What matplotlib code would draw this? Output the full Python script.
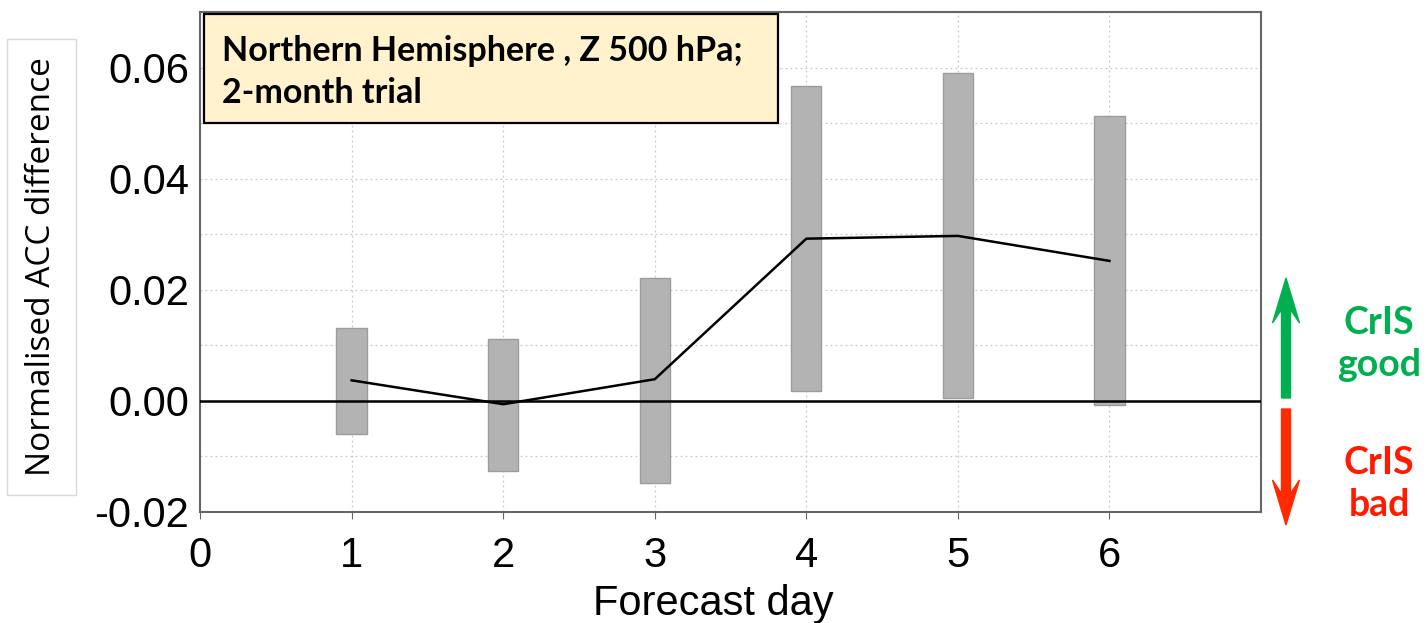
import matplotlib
matplotlib.use("Agg")
import matplotlib.pyplot as plt
from matplotlib.patches import Rectangle, FancyArrow
from matplotlib.ticker import MultipleLocator

# forecast days and normalised ACC difference (mean and range)
days = [1, 2, 3, 4, 5, 6]
acc_mean = [0.0037, -0.0006, 0.0039, 0.0292, 0.0297, 0.0252]
acc_upper = [0.0131, 0.0112, 0.0222, 0.0567, 0.0590, 0.0513]
acc_lower = [-0.0059, -0.0126, -0.0147, 0.0017, 0.0005, -0.0008]
y_ticks = [-0.02, 0.00, 0.02, 0.04, 0.06]
x_ticks = [0, 1, 2, 3, 4, 5, 6]

plt.rcParams['font.family'] = ['Liberation Sans', 'DejaVu Sans']

fig = plt.figure(figsize=(14.27, 6.23), dpi=100)
ax = fig.add_axes([0.1402, 0.1782, 0.7435, 0.8025])

# grid
ax.set_xlim(0, 7)
ax.set_ylim(-0.02, 0.07)
ax.set_xticks(x_ticks)
ax.set_yticks(y_ticks)
ax.yaxis.set_minor_locator(MultipleLocator(0.01))
ax.grid(which='both', axis='y', color='#c8c8c8', linestyle=(0, (1.5, 2.5)), linewidth=0.9)
ax.grid(which='major', axis='x', color='#c8c8c8', linestyle=(0, (1.5, 2.5)), linewidth=0.9)
ax.set_axisbelow(True)

# range bars
heights = [u - l for u, l in zip(acc_upper, acc_lower)]
ax.bar(days, heights, bottom=acc_lower, width=0.2, color='#b3b3b3',
       edgecolor='#9c9c9c', linewidth=1.0, zorder=2)

ax.axhline(0, color='black', linewidth=1.8, zorder=3)
ax.plot(days, acc_mean, color='black', linewidth=1.8, zorder=4)

for s in ax.spines.values():
    s.set_color('#666666')
    s.set_linewidth(1.5)

ax.set_yticklabels(['-0.02', '0.00', '0.02', '0.04', '0.06'])
ax.tick_params(axis='both', labelsize=30)
ax.tick_params(axis='y', which='both', length=0, pad=8)
ax.tick_params(axis='x', length=5, color='#666666', pad=12)

ax.set_xlabel('Forecast day', fontsize=30)
ax.xaxis.set_label_coords(0.4835, -0.145)
ax.set_ylabel('Normalised ACC difference', fontsize=24, family='Open Sans',
              bbox=dict(boxstyle='square,pad=0.55', fc='white', ec='#d9d9d9', lw=1))
ax.yaxis.set_label_coords(-0.134, 0.49)

# title box
ax.add_patch(Rectangle((0.0038, 0.778), 0.541, 0.218, transform=ax.transAxes,
                       facecolor='#fff2cc', edgecolor='black', linewidth=1.6,
                       zorder=5, clip_on=False))
ax.text(0.0207, 0.88, 'Northern Hemisphere , Z 500 hPa;\n2-month trial',
        transform=ax.transAxes, fontsize=24.5, fontweight='bold', family='Lato',
        va='center', ha='left', linespacing=1.4, zorder=6)

# good / bad arrows
fig.patches.append(FancyArrow(12.86, 2.25, 0, 1.20, width=0.09, head_width=0.27,
                              head_length=0.45, overhang=0.3, length_includes_head=True,
                              color='#00b050', transform=fig.dpi_scale_trans, figure=fig))
fig.patches.append(FancyArrow(12.86, 2.14, 0, -1.16, width=0.09, head_width=0.27,
                              head_length=0.45, overhang=0.3, length_includes_head=True,
                              color='#ff2a00', transform=fig.dpi_scale_trans, figure=fig))
fig.text(13.79 / 14.27, 2.79 / 6.23, 'CrIS\ngood', color='#00b050', fontsize=27,
         fontweight='bold', family='Lato', ha='center', va='center', linespacing=1.3)
fig.text(13.79 / 14.27, 1.39 / 6.23, 'CrIS\nbad', color='#ff1a00', fontsize=27,
         fontweight='bold', family='Lato', ha='center', va='center', linespacing=1.3)

fig.savefig('out.png', dpi=100)
